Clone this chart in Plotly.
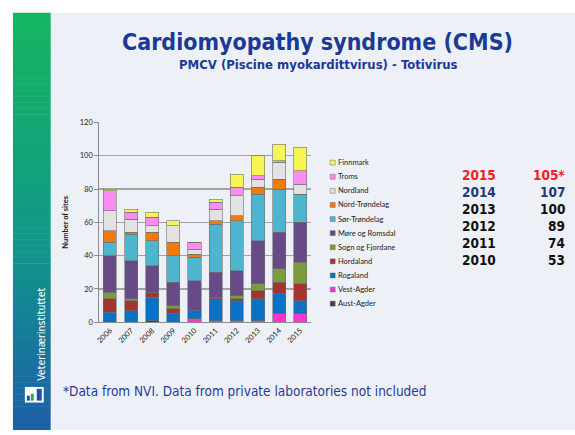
import plotly.graph_objects as go

W, H = 575, 435

years = ['2006', '2007', '2008', '2009', '2010', '2011', '2012', '2013', '2014', '2015']

aust_agder = [0, 0, 1, 0, 0, 0, 0, 0, 0, 0]
vest_agder = [0, 0, 0, 0, 2, 1, 1, 1, 5, 5]
rogaland = [6, 7, 14, 5, 5, 13, 12, 13, 12, 8]
hordaland = [8, 6, 3, 3, 0, 1, 1, 5, 7, 10]
sogn_og_fjordane = [4, 1, 0, 2, 0, 0, 2, 4, 8, 13]
more_og_romsdal = [22, 23, 16, 14, 18, 15, 15, 26, 22, 24]
sor_trondelag = [8, 16, 15, 16, 14, 29, 30, 28, 26, 17]
nord_trondelag = [7, 1, 5, 8, 2, 2, 3, 4, 6, 0]
nordland = [12, 8, 4, 10, 3, 7, 12, 5, 10, 6]
troms = [12, 4, 5, 0, 4, 4, 5, 2, 1, 8]
finnmark = [1, 2, 3, 3, 0, 2, 8, 12, 10, 14]

series_names = ['Aust-Agder', 'Vest-Agder', 'Rogaland', 'Hordaland', 'Sogn og Fjordane',
                'Møre og Romsdal', 'Sør-Trøndelag', 'Nord-Trøndelag', 'Nordland', 'Troms', 'Finnmark']
series_values = [aust_agder, vest_agder, rogaland, hordaland, sogn_og_fjordane,
                 more_og_romsdal, sor_trondelag, nord_trondelag, nordland, troms, finnmark]
series_colors = ['#404040', '#FF33CC', '#0A72C4', '#A33432', '#7D9A3C',
                 '#674A88', '#4DB5CD', '#F07A0A', '#E2E2E2', '#FA8CF2', '#F7F552']

table_years = ['2015', '2014', '2013', '2012', '2011', '2010']
table_totals = ['105*', '107', '100', '89', '74', '53']
table_colors = ['#F22020', '#1F3A78', '#111111', '#111111', '#111111', '#111111']

y_ticks = [0, 20, 40, 60, 80, 100, 120]


def px(x):
    return x / W


def py(y):
    return 1 - y / H


fig = go.Figure()
for name, vals, col in zip(series_names, series_values, series_colors):
    fig.add_trace(go.Bar(
        x=years, y=vals, name=name, marker_color=col,
        marker_line=dict(color='rgba(110,110,110,0.75)', width=0.8),
        showlegend=False, hoverinfo='skip',
    ))

shapes = []
annotations = []

# slide background (white margin at left and top)
shapes.append(dict(type='rect', xref='paper', yref='paper', x0=px(9), x1=1, y0=0, y1=py(9),
                   fillcolor='#EEF0F7', line_width=0, layer='below'))

# sidebar gradient
top_c = (22, 182, 96)
mid_c = (18, 152, 138)
bot_c = (28, 96, 168)
n_strips = 70
y_start, y_end = 9, 435
for i in range(n_strips):
    t = i / (n_strips - 1)
    if t < 0.55:
        u = t / 0.55
        c = tuple(int(top_c[k] + (mid_c[k] - top_c[k]) * u) for k in range(3))
    else:
        u = (t - 0.55) / 0.45
        c = tuple(int(mid_c[k] + (bot_c[k] - mid_c[k]) * u) for k in range(3))
    ya = y_start + (y_end - y_start) * i / n_strips
    yb = min(y_start + (y_end - y_start) * (i + 1) / n_strips + 0.5, 435)
    shapes.append(dict(type='rect', xref='paper', yref='paper', x0=px(9), x1=px(47),
                       y0=py(yb), y1=py(ya), fillcolor='rgb(%d,%d,%d)' % c,
                       line_width=0, layer='below'))

# logo
shapes.append(dict(type='rect', xref='paper', yref='paper', x0=px(21), x1=px(40),
                   y0=py(407), y1=py(391), fillcolor='white', line_width=0))
shapes.append(dict(type='rect', xref='paper', yref='paper', x0=px(33), x1=px(38),
                   y0=py(405), y1=py(393), fillcolor='#1E4FA0', line_width=0))
shapes.append(dict(type='rect', xref='paper', yref='paper', x0=px(27), x1=px(30),
                   y0=py(405), y1=py(398), fillcolor='#2DA84A', line_width=0))
shapes.append(dict(type='rect', xref='paper', yref='paper', x0=px(23), x1=px(26),
                   y0=py(405), y1=py(400), fillcolor='#1E4FA0', line_width=0))

annotations.append(dict(text='Veterinærinstituttet', x=px(37), y=py(337), xref='paper', yref='paper',
                        showarrow=False, textangle=-90, xanchor='center', yanchor='middle',
                        font=dict(family='DejaVu Sans Condensed, DejaVu Sans', size=10.5, color='white')))

# titles
annotations.append(dict(text='<b>Cardiomyopathy syndrome (CMS)</b>', x=px(316), y=py(39),
                        xref='paper', yref='paper', showarrow=False, xanchor='center', yanchor='middle',
                        font=dict(family='DejaVu Sans Condensed, DejaVu Sans', size=23, color='#1A3A96')))
annotations.append(dict(text='<b>PMCV (Piscine myokardittvirus) - Totivirus</b>', x=px(316.5), y=py(62),
                        xref='paper', yref='paper', showarrow=False, xanchor='center', yanchor='middle',
                        font=dict(family='DejaVu Sans Condensed, DejaVu Sans', size=13, color='#1A3A96')))

# footnote
annotations.append(dict(text='*Data from NVI. Data from private laboratories not included', x=px(57), y=py(395),
                        xref='paper', yref='paper', showarrow=False, xanchor='left', yanchor='middle',
                        font=dict(family='DejaVu Sans Condensed, DejaVu Sans', size=13.5, color='#1F3C98')))

# custom legend (top to bottom: reversed stack order)
leg_y0 = 162
leg_dy = 14.4
for i, (name, col) in enumerate(zip(series_names[::-1], series_colors[::-1])):
    yc = leg_y0 + i * leg_dy
    shapes.append(dict(type='rect', xref='paper', yref='paper', x0=px(328.5), x1=px(333.5),
                       y0=py(yc + 2.5), y1=py(yc - 2.5), fillcolor=col,
                       line=dict(color='rgba(90,90,90,0.7)', width=0.6)))
    annotations.append(dict(text=name, x=px(334.5), y=py(yc), xref='paper', yref='paper',
                            showarrow=False, xanchor='left', yanchor='middle',
                            font=dict(family='Lato, Liberation Sans', size=7.5, color='#222222')))

# totals table
row_y = [175, 192.2, 209.4, 226.6, 243.8, 261]
for yr, tot, col, yc in zip(table_years, table_totals, table_colors, row_y):
    annotations.append(dict(text='<b>%s</b>' % yr, x=px(459), y=py(yc), xref='paper', yref='paper',
                            showarrow=False, xanchor='left', yanchor='middle',
                            font=dict(family='DejaVu Sans Condensed, DejaVu Sans', size=13.5, color=col)))
    annotations.append(dict(text='<b>%s</b>' % tot, x=px(567), y=py(yc), xref='paper', yref='paper',
                            showarrow=False, xanchor='right', yanchor='middle',
                            font=dict(family='DejaVu Sans Condensed, DejaVu Sans', size=13.5, color=col)))

fig.update_layout(
    width=W, height=H,
    margin=dict(l=0, r=0, t=0, b=0),
    paper_bgcolor='white',
    plot_bgcolor='rgba(0,0,0,0)',
    barmode='stack',
    bargap=0.38,
    showlegend=False,
    hovermode=False,
    shapes=shapes,
    annotations=annotations,
    xaxis=dict(
        domain=[px(96), px(309)],
        type='category',
        range=[-0.5, 9.5],
        tickangle=-45,
        tickfont=dict(family='Lato, Liberation Sans', size=7.5, color='#222222'),
        showline=True, linecolor='#8C8C8C', linewidth=1,
        ticks='', showgrid=False,
    ),
    yaxis=dict(
        domain=[py(325), py(121)],
        range=[0, 120],
        tickvals=y_ticks,
        tickfont=dict(family='Lato, Liberation Sans', size=7.5, color='#222222'),
        showline=True, linecolor='#8C8C8C', linewidth=1,
        ticks='outside', ticklen=4, tickcolor='#8C8C8C',
        showgrid=True, gridcolor='#A3A3A3', gridwidth=1.2,
        zeroline=False,
        title=dict(text='<b>Number of sites</b>', standoff=10,
                   font=dict(family='Lato, Liberation Sans', size=7.5, color='#222222')),
    ),
)

fig.write_html(
    'out.html',
    config={'displayModeBar': False, 'staticPlot': True},
    post_script="document.body.style.margin='0';document.body.style.overflow='hidden';"
                "document.documentElement.style.overflow='hidden';",
)
